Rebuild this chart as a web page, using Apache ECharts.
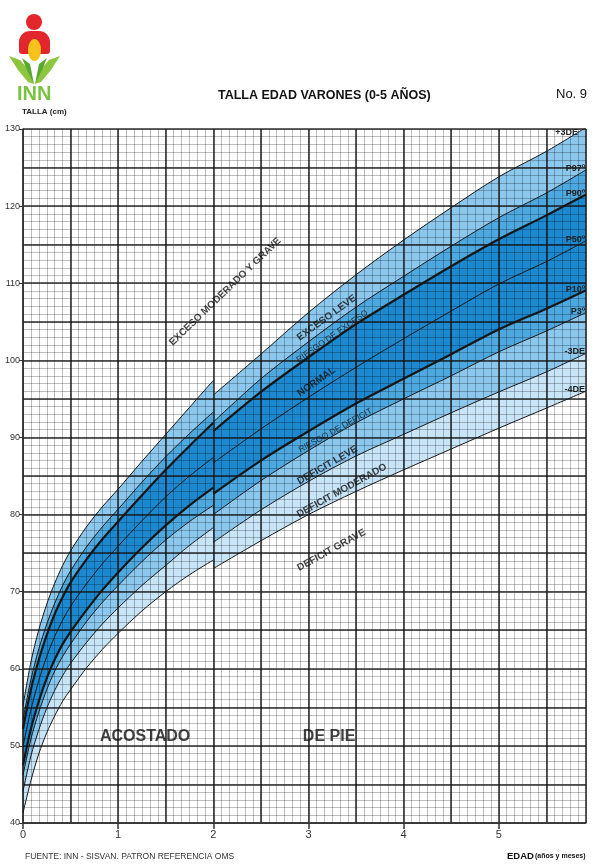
<!DOCTYPE html>
<html>
<head>
<meta charset="utf-8">
<script src="https://cdn.jsdelivr.net/npm/echarts@6/dist/echarts.min.js"></script>
<style>html,body{margin:0;padding:0;background:#fff}#c{width:615px;height:866px}</style>
</head>
<body>
<div id="c"></div>
<script>
// ---- data (months, cm) ----
const lyingMonths = [0, 1, 2, 3, 4, 5, 6, 8, 10, 12, 15, 18, 21, 24];
const lyingP3DE  = [55.2, 60.9, 65.1, 68.4, 71.1, 73.4, 75.3, 78.4, 81.0, 83.3, 86.9, 90.4, 93.9, 97.4];
const lyingP97   = [53.4, 58.6, 62.6, 65.8, 68.5, 70.8, 72.7, 75.8, 78.4, 80.7, 84.2, 87.5, 90.5, 93.3];
const lyingP90   = [52.2, 57.3, 61.2, 64.4, 67.1, 69.3, 71.2, 74.2, 76.8, 79.1, 82.5, 85.8, 88.9, 91.9];
const lyingP50   = [49.9, 54.7, 58.5, 61.6, 64.2, 66.3, 68.1, 71.0, 73.6, 75.9, 79.2, 82.3, 85.0, 87.4];
const lyingP10   = [47.5, 52.2, 55.8, 58.8, 61.2, 63.2, 64.8, 67.6, 70.2, 72.5, 75.7, 78.6, 81.2, 83.5];
const lyingP3    = [46.2, 50.9, 54.4, 57.3, 59.7, 61.6, 63.2, 66.1, 68.6, 70.8, 73.9, 76.7, 79.1, 81.2];
const lyingM3DE  = [44.1, 48.7, 52.1, 54.9, 57.2, 59.1, 60.7, 63.4, 65.8, 67.9, 70.8, 73.4, 76.0, 78.3];
const lyingM4DE  = [41.3, 45.5, 49.0, 51.7, 53.9, 55.8, 57.3, 60.1, 62.5, 64.6, 67.5, 70.0, 72.2, 74.1];

const standMonths = [24, 30, 36, 42, 48, 54, 60, 66, 71];
const standP3DE  = [95.5, 100.8, 106.2, 111.1, 115.6, 119.8, 123.8, 127.1, 130.2];
const standP97   = [92.0, 97.6, 102.4, 106.9, 110.9, 114.8, 118.5, 121.7, 124.7];
const standP90   = [90.8, 95.9, 100.4, 104.7, 108.5, 112.2, 115.7, 118.8, 121.5];
const standP50   = [86.7, 91.1, 95.2, 99.1, 102.8, 106.4, 109.9, 112.8, 115.5];
const standP10   = [82.7, 87.0, 90.8, 94.4, 97.6, 100.8, 104.0, 106.7, 109.1];
const standP3    = [80.0, 84.4, 88.3, 91.9, 95.0, 98.0, 101.1, 103.8, 106.2];
const standM3DE  = [76.4, 80.6, 84.3, 87.6, 90.4, 93.2, 95.9, 98.5, 100.9];
const standM4DE  = [73.0, 76.6, 80.0, 83.0, 85.8, 88.5, 91.2, 93.8, 96.0];

const yearTicks = [0, 12, 24, 36, 48, 60];
const yearLabels = ['0', '1', '2', '3', '4', '5'];
const cmLabels = [40, 50, 60, 70, 80, 90, 100, 110, 120, 130];

const curveNames = ['+3DE', 'P97º', 'P90º', 'P50º', 'P10º', 'P3º', '-3DE', '-4DE'];

// ---- styles ----
const C_LIGHT = '#8cc8ee', C_MED = '#4ea8e0', C_DARK = '#1b88cf', C_LIGHTER = '#c8e5f8', C_WHITE = '#ffffff';
const curveStyles = [
  {fill: C_LIGHT, w: 1, off: [-8, 5]},
  {fill: C_MED, w: 1, off: [-1, -1]},
  {fill: C_DARK, w: 2.2, off: [-1, -1]},
  {fill: C_DARK, w: 1, off: [-1, -1]},
  {fill: C_MED, w: 2.2, off: [-1, -1]},
  {fill: C_LIGHT, w: 1, off: [-1, -1]},
  {fill: C_LIGHTER, w: 1, off: [-1, -2]},
  {fill: C_WHITE, w: 1, off: [-1, -2]}
];

const lyingSets = [lyingP3DE, lyingP97, lyingP90, lyingP50, lyingP10, lyingP3, lyingM3DE, lyingM4DE];
const standSets = [standP3DE, standP97, standP90, standP50, standP10, standP3, standM3DE, standM4DE];

function pairs(xs, ys) { return xs.map((x, i) => [x, ys[i]]); }

const series = [];
function addSegment(xs, sets, withLabels) {
  // fills (below the grid)
  sets.forEach((ys, k) => {
    series.push({
      type: 'line', xAxisIndex: 1, yAxisIndex: 1, data: pairs(xs, ys),
      smooth: 0.3, showSymbol: false, symbol: 'none', clip: true,
      lineStyle: {width: 0, opacity: 0},
      areaStyle: {color: curveStyles[k].fill, opacity: 1, origin: 'start'},
      silent: true, z: 1
    });
  });
  // curves (above the grid)
  sets.forEach((ys, k) => {
    const st = curveStyles[k];
    const s = {
      type: 'line', xAxisIndex: 1, yAxisIndex: 1, data: pairs(xs, ys),
      smooth: 0.3, showSymbol: false, symbol: 'none', clip: true,
      lineStyle: {color: '#161616', width: st.w},
      silent: true, z: 5
    };
    if (withLabels) {
      s.endLabel = {
        show: true, formatter: curveNames[k], distance: 0,
        align: 'right', verticalAlign: 'middle', offset: st.off,
        fontSize: 9, fontWeight: 'bold', color: '#222', fontFamily: 'Liberation Sans'
      };
    }
    series.push(s);
  });
}
addSegment(lyingMonths, lyingSets, false);
addSegment(standMonths, standSets, true);

// zone annotations [month, cm]
const zoneText = [
  {t: 'EXCESO MODERADO Y GRAVE', p: [25.5, 108.9], r: 44, s: 10, b: 'bold'},
  {t: 'EXCESO LEVE', p: [38.3, 105.5], r: 36, s: 10, b: 'bold'},
  {t: 'RIESGO DE EXCESO', p: [39.0, 103.1], r: 35, s: 8.5, b: 'normal'},
  {t: 'NORMAL', p: [37.0, 97.2], r: 35, s: 10, b: 'bold'},
  {t: 'RIESGO DE DEFICIT', p: [39.4, 90.9], r: 29, s: 8.5, b: 'normal'},
  {t: 'DEFICIT LEVE', p: [38.4, 86.4], r: 30, s: 10, b: 'bold'},
  {t: 'DEFICIT MODERADO', p: [40.2, 83.1], r: 29, s: 10, b: 'bold'},
  {t: 'DEFICIT GRAVE', p: [38.9, 75.4], r: 29, s: 10, b: 'bold'},
  {t: 'ACOSTADO', p: [15.4, 51.2], r: 0, s: 16, b: 'bold'},
  {t: 'DE PIE', p: [38.6, 51.2], r: 0, s: 16, b: 'bold'}
];
series.push({
  type: 'scatter', xAxisIndex: 1, yAxisIndex: 1, symbolSize: 0, silent: true, z: 6,
  data: zoneText.map(a => ({
    value: a.p,
    label: {show: true, position: 'inside', formatter: a.t, rotate: a.r, fontSize: a.s,
      fontWeight: a.b, color: '#111', fontFamily: 'Liberation Sans'}
  }))
});

const MINOR = 'rgba(0,0,0,0.32)', MAJOR = 'rgba(20,20,20,0.88)';
const option = {
  backgroundColor: '#ffffff',
  animation: false,
  grid: {left: 23, right: 29, top: 129, bottom: 43, show: false},
  xAxis: [
    {type: 'value', min: 0, max: 71, interval: 1, position: 'bottom', z: 3,
      axisLine: {show: false}, axisTick: {show: false}, axisLabel: {show: false},
      splitLine: {show: true, lineStyle: {color: MINOR, width: 0.8}}},
    {type: 'value', min: 0, max: 71, interval: 6, position: 'bottom', z: 4,
      axisLine: {show: true, lineStyle: {color: '#333', width: 1.5}}, axisTick: {show: false}, axisLabel: {show: false},
      splitLine: {show: true, lineStyle: {color: MAJOR, width: 1.6}}},
    {type: 'value', min: 0, max: 71, position: 'bottom', z: 4,
      axisLine: {show: false},
      axisTick: {show: true, customValues: yearTicks, length: 6, lineStyle: {color: '#333', width: 1.5}},
      axisLabel: {show: true, customValues: yearTicks, formatter: v => yearLabels[yearTicks.indexOf(v)] || '',
        fontSize: 11, color: '#333', margin: 6, fontFamily: 'Liberation Sans'},
      splitLine: {show: false}}
  ],
  yAxis: [
    {type: 'value', min: 40, max: 130, interval: 1, position: 'left', z: 3,
      axisLine: {show: false}, axisTick: {show: false}, axisLabel: {show: false},
      splitLine: {show: true, lineStyle: {color: MINOR, width: 0.8}}},
    {type: 'value', min: 40, max: 130, interval: 5, position: 'left', z: 4,
      axisLine: {show: true, lineStyle: {color: '#333', width: 1.5}}, axisTick: {show: false}, axisLabel: {show: false},
      splitLine: {show: true, lineStyle: {color: MAJOR, width: 1.6}}},
    {type: 'value', min: 40, max: 130, position: 'left', z: 4,
      axisLine: {show: false},
      axisTick: {show: true, customValues: cmLabels, length: 4, lineStyle: {color: '#333', width: 1}},
      axisLabel: {show: true, customValues: cmLabels, fontSize: 9, color: '#333', margin: 3, fontFamily: 'Liberation Sans'},
      splitLine: {show: false}}
  ],
  graphic: [
    // logo
    {type: 'circle', shape: {cx: 34, cy: 22, r: 8}, style: {fill: '#e2262b'}},
    {type: 'rect', shape: {x: 19, y: 31, width: 31, height: 23, r: [11, 11, 3, 3]}, style: {fill: '#e2262b'}},
    {type: 'ellipse', shape: {cx: 34.5, cy: 50, rx: 6.5, ry: 11}, style: {fill: '#f6c21b'}},
    {type: 'polygon', shape: {points: [[9, 56], [20, 60], [29, 70], [34, 84], [28, 82], [18, 70]]}, style: {fill: '#8cc63f'}},
    {type: 'polygon', shape: {points: [[60, 56], [49, 60], [40, 70], [35, 84], [41, 82], [51, 70]]}, style: {fill: '#8cc63f'}},
    {type: 'polygon', shape: {points: [[22, 58], [30, 64], [34, 84], [27, 70]]}, style: {fill: '#5aa832'}},
    {type: 'polygon', shape: {points: [[47, 58], [39, 64], [35, 84], [42, 70]]}, style: {fill: '#5aa832'}},
    {type: 'text', left: 17, top: 84, style: {text: 'INN', fill: '#7cc242', font: 'bold 20px "Liberation Sans Narrow", "Liberation Sans"'}},
    {type: 'text', left: 22, top: 108, style: {text: 'TALLA (cm)', fill: '#222', font: 'bold 8px "Liberation Sans"'}},
    {type: 'text', left: 218, top: 89, style: {text: 'TALLA EDAD VARONES (0-5 AÑOS)', fill: '#111', font: 'bold 12.5px "Liberation Sans"'}},
    {type: 'text', left: 556, top: 88, style: {text: 'No. 9', fill: '#111', font: '13px "Liberation Sans"'}},
    {type: 'text', left: 25, top: 852, style: {text: 'FUENTE: INN - SISVAN. PATRON REFERENCIA OMS', fill: '#333', font: '8.5px "Liberation Sans"'}},
    {type: 'text', left: 507, top: 851, style: {text: 'EDAD', fill: '#111', font: 'bold 9.5px "Liberation Sans"'}},
    {type: 'text', left: 535, top: 853, style: {text: '(años y meses)', fill: '#111', font: 'bold 7px "Liberation Sans"'}}
  ],
  series: series
};

const chart = echarts.init(document.getElementById('c'), null, {renderer: 'canvas'});
chart.setOption(option);
</script>
</body>
</html>
